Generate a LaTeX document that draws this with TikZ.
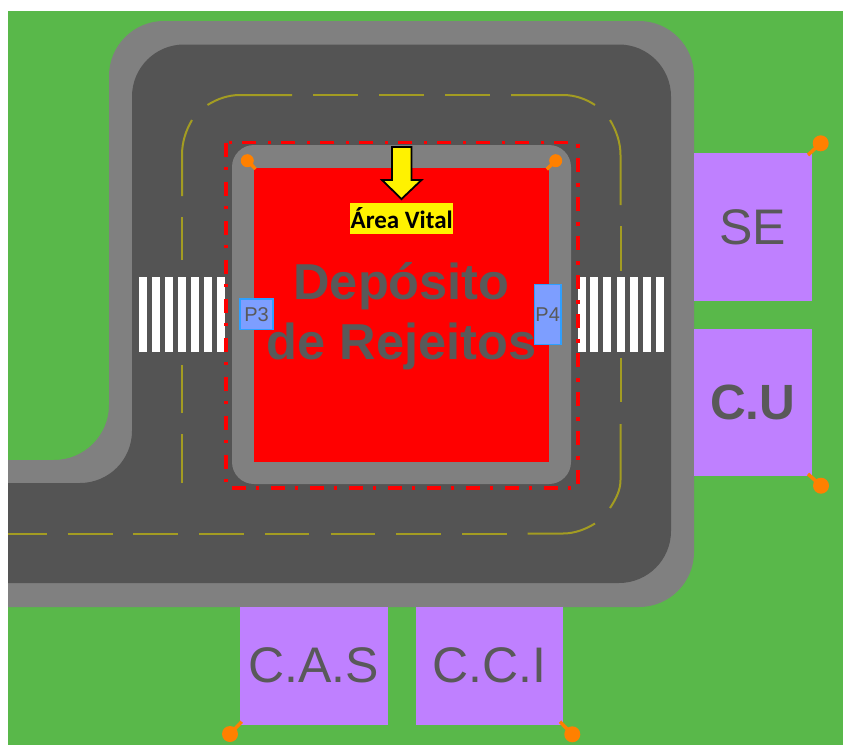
\documentclass[tikz,border=0pt]{standalone}
\usepackage{fontspec}
\setmainfont{Liberation Sans}
\newfontfamily\calib{Carlito}
\definecolor{grassc}{HTML}{59B84A}
\definecolor{curbc}{HTML}{808080}
\definecolor{asphc}{HTML}{545454}
\definecolor{lanec}{HTML}{A39C22}
\definecolor{bldc}{HTML}{BF80FF}
\definecolor{txtc}{HTML}{595959}
\definecolor{pinc}{HTML}{FF8000}
\definecolor{portc}{HTML}{7D9EFF}
\definecolor{portb}{HTML}{2E9FFF}
\tikzset{
  bldbox/.style={fill=bldc,draw=none,inner sep=0pt,text=txtc,font=\fontsize{50}{50}\selectfont},
  portbox/.style={fill=portc,draw=portb,line width=1.2pt,inner sep=0pt,text=txtc,font=\fontsize{20}{20}\selectfont},
  laneline/.style={draw=lanec,line width=2pt},
  zebra/.style={fill=white},
  pintail/.style={draw=pinc,line width=3.5pt},
}
\newcommand{\pinmark}[5]{%
  \coordinate (#1h) at (#2,#3);
  \coordinate (#1t) at (#4,#5);
  \draw[pintail] (#1h) -- (#1t);
}
\newcommand{\zebraset}[1]{%
  \foreach \xx in {#1} {\fill[zebra] (\xx,277) rectangle ++(8,75);}
}
\begin{document}
\begin{tikzpicture}[x=1pt,y=-1pt]
\useasboundingbox (0,0) rectangle (843,745);
\fill[white] (0,0) rectangle (843,745);
\fill[grassc] (8,11) rectangle (843,745);
% road kerb
\fill[curbc] (8,607) -- (8,460) [rounded corners=55pt] -- (109,460) [rounded corners=55pt] -- (109,21) -- (694,21) -- (694,607) [sharp corners] -- (8,607) -- cycle;
% asphalt
\fill[asphc] (8,583) -- (8,483) [rounded corners=52pt] -- (132,483) -- (132,44.5) -- (671,44.5) -- (671,583) [sharp corners] -- (8,583) -- cycle;
% lane markings
\draw[laneline] (192,120) .. controls (186,130) and (182,142) .. (182,155) -- (182,196);
\draw[laneline] (182,217) -- (182,260);
\draw[laneline] (182,365) -- (182,413);
\draw[laneline] (182,434) -- (182,483);
\draw[laneline] (207.5,105) .. controls (217,99) and (228,95) .. (240,95) -- (292,95);
\foreach \a/\b in {313/358,379/424,445/489.5} \draw[laneline] (\a,95) -- (\b,95);
\draw[laneline] (511,95) -- (563,95) .. controls (575,95) and (586,99) .. (595,105);
\draw[laneline] (610,120) .. controls (616,130) and (620.5,142) .. (620.5,155) -- (620.5,205);
\draw[laneline] (620.5,226) -- (620.5,270.5);
\draw[laneline] (620.5,358) -- (620.5,402);
\draw[laneline] (620.5,424) -- (620.5,480) .. controls (620.5,490) and (616,499) .. (610,508);
\draw[laneline] (595,523.5) .. controls (586,529) and (575,533.5) .. (563,533.5) -- (527.7,533.5);
\foreach \a/\b in {462/507,396/441,330.7/375,265/309,199/243.7,133/178,67.7/112.5,8/46.7} \draw[laneline] (\a,533.5) -- (\b,533.5);
% crosswalks
\zebraset{139,152,165,178,191,204,217}
\zebraset{577.5,590,603,616.5,629.5,642.5,656}
% central block
\fill[curbc,rounded corners=22pt] (232,145) rectangle (571,484);
\fill[red] (254,167.5) rectangle (549,462);
% vital area perimeter
\draw[red,line width=3.5pt,dash pattern=on 14pt off 10pt on 3.5pt off 11.5pt] (226,142.5) rectangle (578,488);
% pins in the block
\pinmark{ptl}{247.3}{160.7}{255.5}{169}
\pinmark{ptr}{555.7}{160.7}{546.8}{169.3}
\fill[pinc] (ptlh) circle (6.5);
\fill[pinc] (ptrh) circle (6.5);
% title
\node[text=txtc,font=\fontsize{50.5}{60}\selectfont\bfseries,align=center,inner sep=0pt] (dep) at (401.5,316) {Depósito\\de Rejeitos};
% arrow
\draw[fill=yellow,draw=black,line width=1.8pt,line join=miter] (392,147) -- (411.5,147) -- (411.5,180) -- (421.5,180) -- (401.5,199) -- (382,180) -- (392,180) -- cycle;
\node[fill=yellow,inner sep=0pt,minimum width=103.5pt,minimum height=31pt,font=\calib\fontsize{25}{25}\selectfont\bfseries,text=black] (av) at (401.7,218.5) {Área Vital};
% ports
\node[portbox,minimum width=33pt,minimum height=30.5pt] (p3) at (256.5,314.2) {P3};
\node[portbox,minimum width=26.5pt,minimum height=60pt] (p4) at (547.7,314.5) {P4};
% buildings
\node[bldbox,minimum width=117.7pt,minimum height=148pt] (se) at (752.85,227) {SE};
\node[bldbox,minimum width=117.7pt,minimum height=147pt,font=\fontsize{49.5}{50}\selectfont\bfseries] (cu) at (752.85,402.3) {C.U};
\node[bldbox,minimum width=147.7pt,minimum height=117.5pt] (cas) at (313.85,665.75) {C.A.S};
\node[bldbox,minimum width=147.8pt,minimum height=117.5pt] (cci) at (489.4,665.75) {C.C.I};
% pins on buildings
\pinmark{pse}{820.7}{143.3}{808}{155}
\pinmark{pcu}{821}{485.7}{808}{474}
\pinmark{pca}{230}{734}{241.7}{721.7}
\pinmark{pcc}{572.3}{734.3}{560}{721.7}
\foreach \p in {pse,pcu,pca,pcc} \fill[pinc] (\p h) circle (8);
\end{tikzpicture}
\end{document}
